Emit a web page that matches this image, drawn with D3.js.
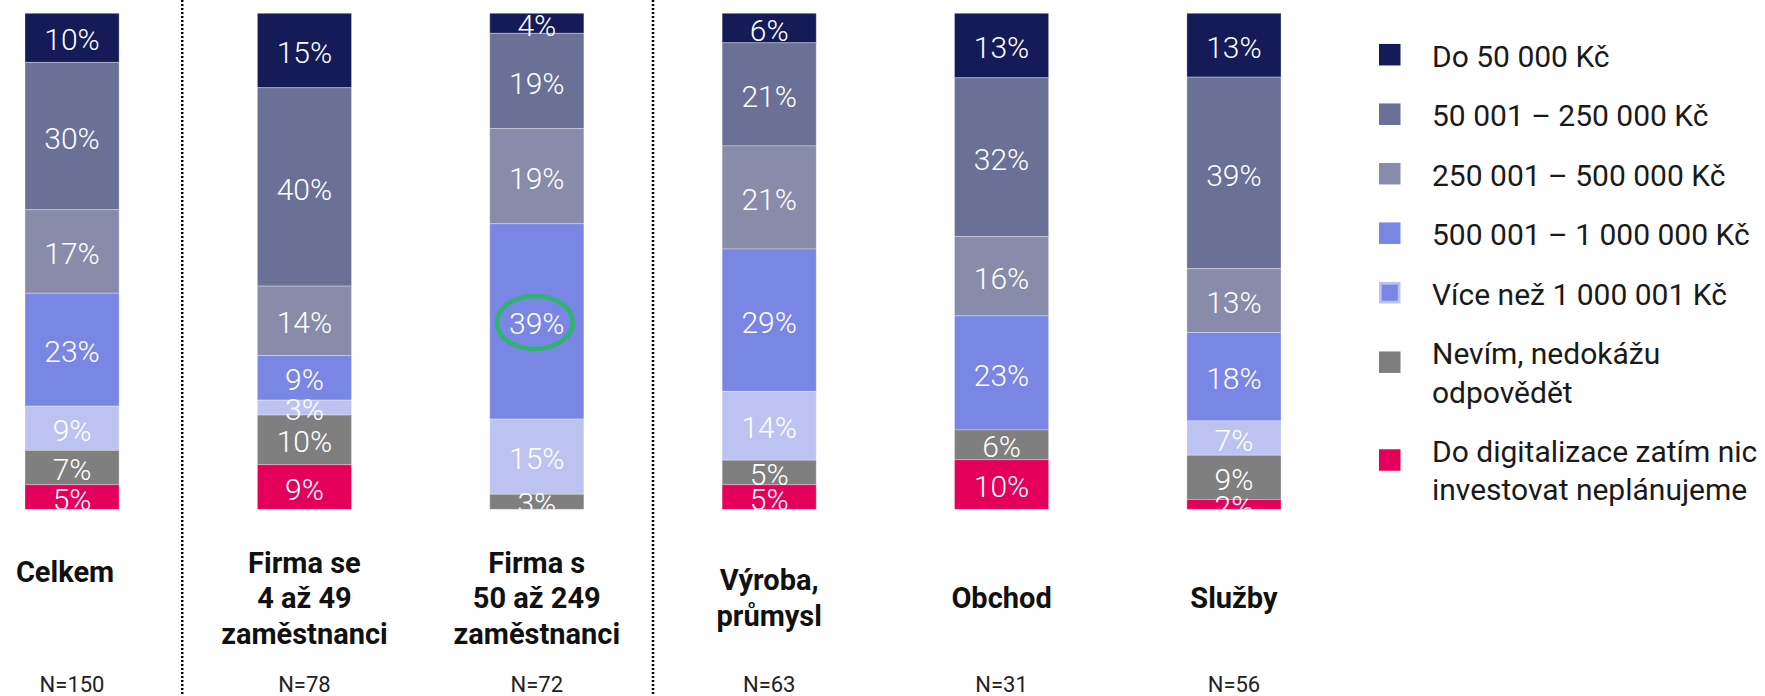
<!DOCTYPE html>
<html>
<head>
<meta charset="utf-8">
<script src="https://cdn.jsdelivr.net/npm/d3@7"></script>
<style>
	body { margin: 0; background: #fff; }
	svg { display: block; font-family: Roboto, "Noto Sans", sans-serif; }
	.value { fill: #fff; font-size: 30px; font-weight: 300; text-anchor: middle; }
	.category { fill: #111; font-size: 29px; font-weight: 700; text-anchor: middle; }
	.sample { fill: #222; font-size: 22px; text-anchor: middle; }
	.legend text { fill: #1a1a1a; font-size: 30px; }
</style>
</head>
<body>
<div id="chart"></div>
<script>
/* jshint esversion: 6 */

///////////////////////////////////////////////////////////////////////////////
//// Data /////////////////////////////////////////////////////////////////////
///////////////////////////////////////////////////////////////////////////////
const categories = ["Celkem", "Firma se 4 až 49 zaměstnanci", "Firma s 50 až 249 zaměstnanci",
	"Výroba, průmysl", "Obchod", "Služby"];
const categoryLines = [
	["Celkem"],
	["Firma se", "4 až 49", "zaměstnanci"],
	["Firma s", "50 až 249", "zaměstnanci"],
	["Výroba,", "průmysl"],
	["Obchod"],
	["Služby"]
];
const sampleSizes = [150, 78, 72, 63, 31, 56];

const seriesNames = ["Do 50 000 Kč", "50 001 – 250 000 Kč", "250 001 – 500 000 Kč",
	"500 001 – 1 000 000 Kč", "Více než 1 000 001 Kč", "Nevím, nedokážu odpovědět",
	"Do digitalizace zatím nic investovat neplánujeme"];
const legendLines = [
	["Do 50 000 Kč"],
	["50 001 – 250 000 Kč"],
	["250 001 – 500 000 Kč"],
	["500 001 – 1 000 000 Kč"],
	["Více než 1 000 001 Kč"],
	["Nevím, nedokážu", "odpovědět"],
	["Do digitalizace zatím nic", "investovat neplánujeme"]
];

// percentages per series, one value per category
const upTo50k     = [10, 15,  4,  6, 13, 13];
const upTo250k    = [30, 40, 19, 21, 32, 39];
const upTo500k    = [17, 14, 19, 21, 16, 13];
const upTo1M      = [23,  9, 39, 29, 23, 18];
const over1M      = [ 9,  3, 15, 14,  0,  7];
const dontKnow    = [ 7, 10,  3,  5,  6,  9];
const noInvest    = [ 5,  9,  0,  5, 10,  2];
const seriesValues = [upTo50k, upTo250k, upTo500k, upTo1M, over1M, dontKnow, noInvest];

// highlighted cell (green ring)
const highlight = {category: "Firma s 50 až 249 zaměstnanci", series: "500 001 – 1 000 000 Kč"};

///////////////////////////////////////////////////////////////////////////////
//// Set Up ///////////////////////////////////////////////////////////////////
///////////////////////////////////////////////////////////////////////////////
const width = 1765;
const height = 696;
const plot = {top: 13.3, bottom: 509.3, left: 25, right: 1281};

const colors = ["#141b57", "#6b7097", "#888ba9", "#7a86e3", "#bdc3f1", "#7f7f7f", "#e4005a"];
const color = d3.scaleOrdinal().domain(seriesNames).range(colors);

const x = d3.scaleBand()
	.domain(categories)
	.range([plot.left, plot.right])
	.paddingInner(0.595)
	.paddingOuter(0);

const y = d3.scaleLinear()
	.domain([0, 1])
	.range([plot.bottom, plot.top]);

const svg = d3.select("#chart").append("svg")
	.attr("width", width)
	.attr("height", height);

// build table for the stack
const table = categories.map((c, i) => {
	const row = {category: c};
	seriesNames.forEach((s, j) => row[s] = seriesValues[j][i]);
	return row;
});

const stack = d3.stack()
	.keys(seriesNames)
	.order(d3.stackOrderReverse)
	.offset(d3.stackOffsetExpand);
const stacked = stack(table);

///////////////////////////////////////////////////////////////////////////////
//// Bars /////////////////////////////////////////////////////////////////////
///////////////////////////////////////////////////////////////////////////////
svg.append("clipPath")
		.attr("id", "plot-clip")
	.append("rect")
		.attr("x", 0)
		.attr("y", 0)
		.attr("width", width)
		.attr("height", plot.bottom);

const layer = svg.selectAll(".layer")
	.data(stacked)
	.enter().append("g")
		.attr("class", "layer")
		.style("fill", d => color(d.key));

layer.selectAll("rect")
	.data(d => d.filter(e => e[1] - e[0] > 0))
	.enter().append("rect")
		.attr("x", d => x(d.data.category))
		.attr("y", d => y(d[1]))
		.attr("width", x.bandwidth())
		.attr("height", d => y(d[0]) - y(d[1]))
		.style("stroke", "rgba(255,255,255,0.3)")
		.style("stroke-width", 1);

// Value labels (clipped at the bottom of the bars, as in the original)
const labels = svg.append("g")
	.attr("clip-path", "url(#plot-clip)");

stacked.forEach(s => {
	labels.selectAll(null)
		.data(s.filter(e => e.data[s.key] > 0))
		.enter().append("text")
			.attr("class", "value")
			.attr("x", d => x(d.data.category) + x.bandwidth() / 2)
			.attr("y", d => (y(d[0]) + y(d[1])) / 2)
			.attr("dy", "0.42em")
			.text(d => d.data[s.key] + "%");
});

// Green ring around highlighted value
const hlSeries = stacked.find(s => s.key === highlight.series);
const hlCell = hlSeries.find(d => d.data.category === highlight.category);
svg.append("ellipse")
		.attr("cx", x(highlight.category) + x.bandwidth() / 2 - 2)
		.attr("cy", (y(hlCell[0]) + y(hlCell[1])) / 2 + 1)
		.attr("rx", 38)
		.attr("ry", 26.5)
		.style("fill", "none")
		.style("stroke", "#2eb46e")
		.style("stroke-width", 4.5);

///////////////////////////////////////////////////////////////////////////////
//// Dotted separators ////////////////////////////////////////////////////////
///////////////////////////////////////////////////////////////////////////////
const separators = [[0, 1], [2, 3]].map(([a, b]) =>
	(x(categories[a]) + x.bandwidth() + x(categories[b])) / 2);

svg.selectAll(".separator")
	.data(separators)
	.enter().append("line")
		.attr("class", "separator")
		.attr("x1", (d, i) => i === 0 ? d - 6 : d)
		.attr("x2", (d, i) => i === 0 ? d - 6 : d)
		.attr("y1", 0)
		.attr("y2", height)
		.style("stroke", "#000")
		.style("stroke-width", 2.5)
		.style("stroke-dasharray", "2 2");

///////////////////////////////////////////////////////////////////////////////
//// Category labels //////////////////////////////////////////////////////////
///////////////////////////////////////////////////////////////////////////////
const lineHeight = 35.5;
categories.forEach((c, i) => {
	const lines = categoryLines[i];
	const mid = i === 0 ? 582 : 608; // baseline of the middle of the block
	const first = mid - (lines.length - 1) * lineHeight / 2;
	const cx = x(c) + x.bandwidth() / 2 - (i === 0 ? 7 : 0);
	svg.append("text")
			.attr("class", "category")
		.selectAll("tspan")
		.data(lines)
		.enter().append("tspan")
			.attr("x", cx)
			.attr("y", (d, k) => first + k * lineHeight)
			.text(d => d);
});

svg.selectAll(".sample")
	.data(sampleSizes)
	.enter().append("text")
		.attr("class", "sample")
		.attr("x", (d, i) => x(categories[i]) + x.bandwidth() / 2)
		.attr("y", 692)
		.text(d => "N=" + d);

///////////////////////////////////////////////////////////////////////////////
//// Legend ///////////////////////////////////////////////////////////////////
///////////////////////////////////////////////////////////////////////////////
const legend = svg.append("g").attr("class", "legend");
const legendX = 1379;
const box = 21.5;
const legendLineHeight = 38.3;
let cursor = 66.7;

seriesNames.forEach((s, i) => {
	const lines = legendLines[i];
	const g = legend.append("g");
	const boxMid = cursor - 12 + (lines.length - 1) * 10;
	const isLight = s === "Více než 1 000 001 Kč"; // legend swatch has a darker core
	g.append("rect")
			.attr("x", legendX + (isLight ? 1.35 : 0))
			.attr("y", boxMid - box / 2 + (isLight ? 1.35 : 0))
			.attr("width", box - (isLight ? 2.7 : 0))
			.attr("height", box - (isLight ? 2.7 : 0))
			.style("fill", isLight ? color(seriesNames[3]) : color(s))
			.style("stroke", isLight ? color(s) : "none")
			.style("stroke-width", 2.7);
	g.append("text")
		.selectAll("tspan")
		.data(lines)
		.enter().append("tspan")
			.attr("x", 1432)
			.attr("y", (d, k) => cursor + k * legendLineHeight)
			.text(d => d);
	cursor += (lines.length - 1) * legendLineHeight + 59.5;
});
</script>
</body>
</html>
